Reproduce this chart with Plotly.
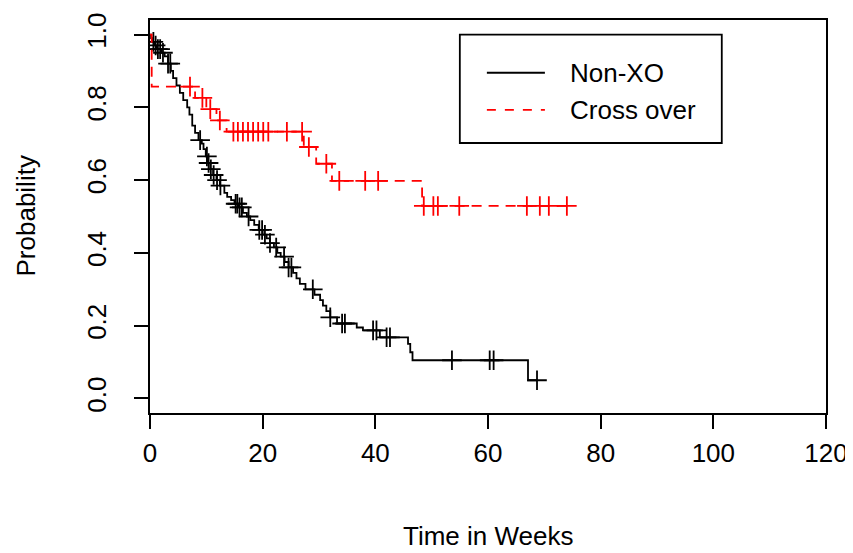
import numpy as np
import plotly.graph_objects as go

# ---------------- data ----------------
nonxo_event_times = [0.2, 0.5, 0.8, 1.2, 2.0, 2.6, 3.2, 3.7, 4.1, 4.7, 5.3, 5.9, 6.6, 7.0, 7.5,
                     8.0, 8.6, 9.2, 9.5, 9.9, 10.2, 10.7, 11.2, 11.8, 12.4, 13.2, 13.7, 14.4,
                     15.0, 15.7, 16.5, 17.2, 17.8, 18.5, 19.3, 20.0, 20.7, 21.3, 22.0, 22.6,
                     23.2, 23.9, 24.6, 25.4, 26.0, 26.6, 27.6, 29.2, 30.2, 30.7, 31.3, 32.0,
                     33.2, 36.7, 37.8, 40.8, 45.8, 46.2, 46.6, 67.1]
nonxo_event_surv = [0.99, 0.98, 0.97, 0.96, 0.95, 0.94, 0.92, 0.90, 0.88, 0.86, 0.84, 0.82, 0.80,
                    0.78, 0.75, 0.73, 0.71, 0.70, 0.685, 0.665, 0.647, 0.63, 0.614, 0.60, 0.585,
                    0.565, 0.554, 0.545, 0.535, 0.525, 0.51, 0.50, 0.49, 0.477, 0.463, 0.45,
                    0.44, 0.427, 0.415, 0.40, 0.39, 0.375, 0.36, 0.345, 0.33, 0.315, 0.30,
                    0.285, 0.27, 0.255, 0.24, 0.223, 0.206, 0.195, 0.187, 0.168, 0.15, 0.127,
                    0.105, 0.05]
nonxo_censor_times = [0.6, 1.0, 1.4, 1.8, 2.3, 3.2, 3.6, 8.9, 10.1, 10.4, 10.8, 11.3, 11.9,
                      12.5, 15.2, 15.5, 15.9, 16.3, 17.5, 19.4, 19.9, 20.4, 21.3, 22.4, 23.8,
                      24.6, 25.1, 28.9, 32.0, 34.1, 34.6, 39.6, 40.2, 42.0, 42.6, 53.6, 60.3,
                      61.0, 68.7]

xo_event_times = [0.3, 8.0, 10.0, 11.8, 13.6, 27.3, 29.5, 32.3, 48.3]
xo_event_surv = [0.857, 0.826, 0.795, 0.764, 0.733, 0.691, 0.645, 0.598, 0.529]
xo_censor_times = [7.1, 9.3, 10.7, 12.4, 14.8, 15.6, 16.5, 17.4, 18.3, 19.2, 20.1, 21.0,
                   24.3, 27.0, 28.2, 31.3, 33.6, 38.2, 40.5, 48.6, 50.3, 51.1, 54.9, 66.9,
                   69.2, 70.8, 74.0]

series_names = ["Non-XO", "Cross over"]
x_ticks = [0, 20, 40, 60, 80, 100, 120]
y_ticks = [0.0, 0.2, 0.4, 0.6, 0.8, 1.0]
y_tick_labels = ["0.0", "0.2", "0.4", "0.6", "0.8", "1.0"]

FONT = "Liberation Sans, Arial, sans-serif"
FS = 26


def step_path(times, survs, end):
    xs = [0.0] + list(times) + [end]
    ys = [1.0] + list(survs) + [survs[-1]]
    return xs, ys


def surv_at(ts, times, survs):
    times = np.asarray(times)
    survs = np.asarray(survs)
    idx = np.searchsorted(times, np.asarray(ts), side="right") - 1
    return np.where(idx >= 0, survs[np.clip(idx, 0, None)], 1.0)


fig = go.Figure()

specs = [
    (nonxo_event_times, nonxo_event_surv, nonxo_censor_times, "black", "solid"),
    (xo_event_times, xo_event_surv, xo_censor_times, "#ff0000", "10px,7px"),
]
for name, (et, es, ct, col, dash) in zip(series_names, specs):
    xs, ys = step_path(et, es, max(ct))
    fig.add_trace(go.Scatter(x=xs, y=ys, mode="lines", line_shape="hv",
                             line=dict(color=col, width=1.8, dash=dash),
                             name=name, showlegend=False, hoverinfo="skip"))
    fig.add_trace(go.Scatter(x=ct, y=surv_at(ct, et, es), mode="markers",
                             marker=dict(symbol="cross-thin", size=14,
                                         line=dict(color=col, width=1.8), color=col),
                             showlegend=False, hoverinfo="skip"))

# legend drawn as shapes + text (data coordinates)
shapes = [dict(type="rect", xref="x", yref="y", x0=55.0, x1=101.5, y0=0.702, y1=1.0,
               line=dict(color="black", width=1.8), fillcolor="white", layer="below")]
annotations = []
leg_y = [0.895, 0.793]
for name, (et, es, ct, col, dash), ly in zip(series_names, specs, leg_y):
    shapes.append(dict(type="line", xref="x", yref="y", x0=59.8, x1=70.1, y0=ly, y1=ly,
                       line=dict(color=col, width=1.8,
                                 dash="dash" if dash != "solid" else "solid")))
    annotations.append(dict(x=74.2, y=ly, xref="x", yref="y", text=name, showarrow=False,
                            xanchor="left", yanchor="middle",
                            font=dict(family=FONT, size=FS, color="black")))

annotations.append(dict(x=0.5, y=0, xref="paper", yref="paper", text="Time in Weeks",
                        showarrow=False, xanchor="center", yanchor="middle", yshift=-123,
                        font=dict(family=FONT, size=FS, color="black")))
annotations.append(dict(x=0, y=0.5, xref="paper", yref="paper", text="Probability",
                        showarrow=False, xanchor="center", yanchor="middle", textangle=-90,
                        xshift=-125, font=dict(family=FONT, size=FS, color="black")))

# the page body adds an 8px offset, so the figure is 8px smaller on each leading side
fig.update_layout(
    width=845, height=545,
    margin=dict(l=142, r=27, t=12, b=140, autoexpand=False),
    paper_bgcolor="white", plot_bgcolor="white",
    font=dict(family=FONT, size=FS, color="black"),
    shapes=shapes, annotations=annotations,
    xaxis=dict(range=[0, 120], tickvals=x_ticks, ticks="outside", ticklen=14,
               tickwidth=1.8, tickcolor="black", showline=True, linecolor="black",
               linewidth=1.8, mirror=True, showgrid=False, zeroline=False,
               automargin=False,
               tickfont=dict(family=FONT, size=FS), ticklabelstandoff=2),
    yaxis=dict(range=[-0.04, 1.04], tickvals=y_ticks, ticktext=y_tick_labels,
               ticks="outside", ticklen=14, tickwidth=1.8, tickcolor="black",
               showline=True, linecolor="black", linewidth=1.8, mirror=True,
               showgrid=False, zeroline=False, tickangle=-90, automargin=False,
               tickfont=dict(family=FONT, size=FS), ticklabelstandoff=18),
)

fig.write_html("out.html")
